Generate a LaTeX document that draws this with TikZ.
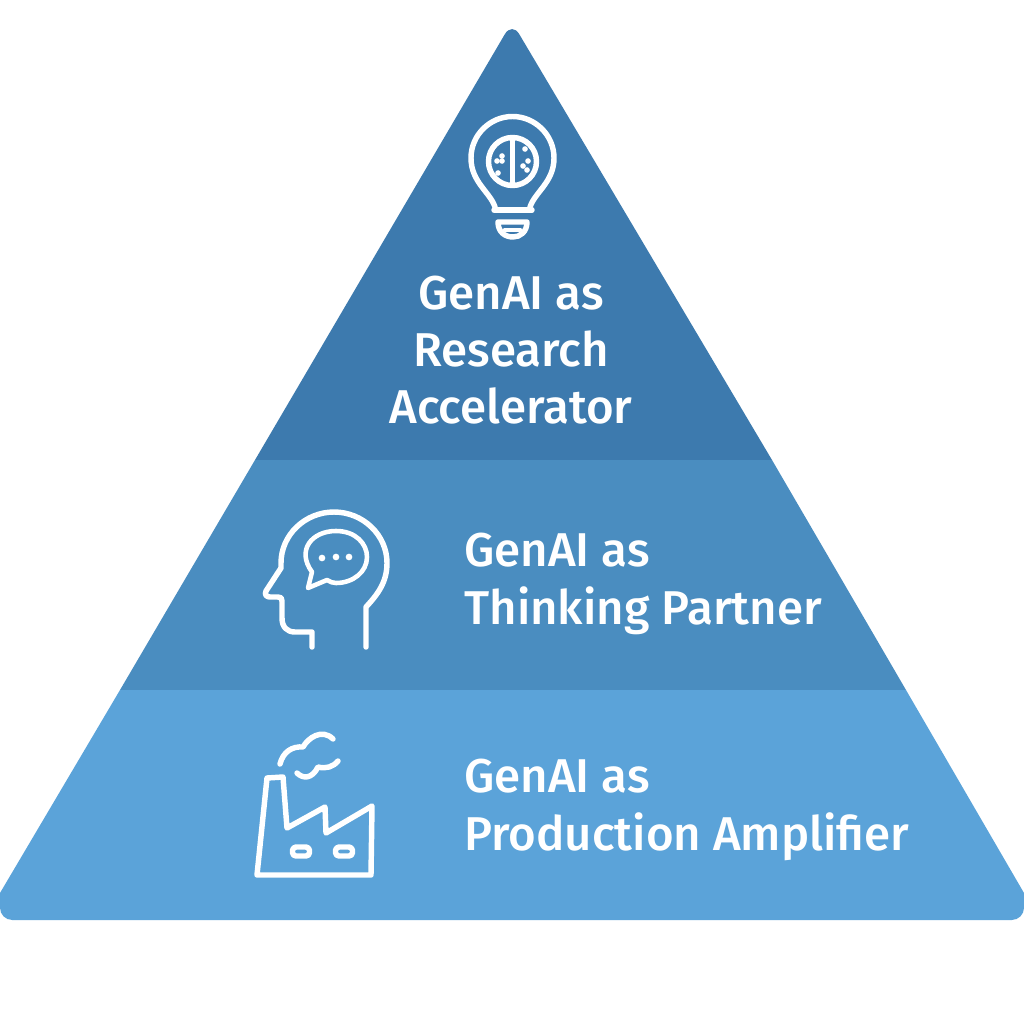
\documentclass[tikz,border=0pt]{standalone}
\usepackage{fontspec}
\setsansfont{Fira Sans Medium}
\definecolor{ctop}{HTML}{3D7AAE}
\definecolor{cmid}{HTML}{4A8DC0}
\definecolor{cbase}{HTML}{5BA3D9}
\tikzset{
  every picture/.style={font=\sffamily},
  tier/.style={fill=#1, draw=none},
  label/.style={text=white, font=\sffamily\fontsize{27}{32.6}\selectfont, inner sep=0pt},
  icon/.style={draw=white, line width=3.1pt, line cap=round, line join=round},
  thin icon/.style={draw=white, line width=2.6pt, line cap=round, line join=round},
}
\begin{document}
\begin{tikzpicture}[x=0.02cm, y=-0.02cm]
  \useasboundingbox (0,0) rectangle (1024,1024);
  \fill[white] (0,0) rectangle (1024,1024);
  % ---------- tiers ----------
  \fill[tier=ctop] (255,460) [rounded corners=8pt] -- (512,22) [sharp corners] -- (772,460) -- cycle;
  \fill[tier=cmid] (255,460) -- (772,460) -- (906,690) -- (120,690) -- cycle;
  \fill[tier=cbase] (120,690) -- (906,690) -- (1024,893) [rounded corners=7pt] -- (1024,920) -- (0,920) [sharp corners] -- (0,893) -- cycle;
  % ---------- top: bulb ----------
  \draw[icon] (495,207) .. controls (490,192) and (471,182) .. (471,158)
    .. controls (471,135) and (490,116.5) .. (512.5,116.5)
    .. controls (535,116.5) and (554,135) .. (554,158)
    .. controls (554,182) and (535,192) .. (530,207);
  \draw[icon] (494,210) -- (532,210);
  \draw[icon] (498,222) -- (527,222) .. controls (527,232) and (520,237) .. (513,237) .. controls (505,237) and (498,232) .. (498,222);
  \draw[thin icon] (505,230) -- (520,230);
  \draw[icon] (512.5,161.5) ellipse[x radius=24, y radius=24];
  \draw[icon] (512.5,139) -- (512.5,185);
  \foreach \x/\y in {502/156, 497/161, 502/161, 498/173, 525/149, 528/161, 523/166, 527/170} {
    \fill[white] (\x,\y) circle (1.6pt);
  }
  \node[label, align=center] (top) at (511,350) {GenAI as\\Research\\Accelerator};
  % ---------- middle: head ----------
  \draw[icon] (366,647) -- (366,607) .. controls (378,594) and (387,582) .. (387,563)
    .. controls (387,535) and (363,512) .. (334,512)
    .. controls (305,512) and (281,535) .. (281,563)
    -- (281,568) -- (266,591) .. controls (264,595) and (267,597) .. (270,597)
    -- (278,597) .. controls (281,597) and (282,598) .. (282,601)
    -- (282,618) .. controls (282,627) and (287,632) .. (295,632)
    -- (312,632) -- (312,647);
  \draw[thin icon] (312,572) .. controls (296,550) and (312,531) .. (336,531)
    .. controls (356,531) and (367,544) .. (367,557)
    .. controls (367,572) and (353,583) .. (336,583)
    .. controls (333,583) and (330,582) .. (327,580) -- (308,588) -- cycle;
  \foreach \x/\y in {322/558, 336/557, 349/557} {
    \fill[white] (\x,\y) circle (1.9pt);
  }
  \node[label, align=left, anchor=west] (mid) at (464,584) {GenAI as\\Thinking Partner};
  % ---------- base: factory ----------
  \draw[icon] (257,875) -- (267,778) -- (283,777) -- (287,828) -- (325,807) -- (326,833) -- (372,806) -- (371,875) -- cycle;
  \draw[icon, rounded corners=2pt] (292.5,847) rectangle (309.5,856);
  \draw[icon, rounded corners=2pt] (335.5,847) rectangle (352.5,856);
  \draw[icon] (280,764) .. controls (283,752) and (292,746) .. (303,747) .. controls (308,738) and (322,728) .. (333,739);
  \draw[icon] (297,773) .. controls (303,779) and (312,779) .. (318,767) .. controls (326,769) and (333,767) .. (338,761);
  \node[label, align=left, anchor=west] (base) at (464,810) {GenAI as\\Production Amplifier};
\end{tikzpicture}
\end{document}
